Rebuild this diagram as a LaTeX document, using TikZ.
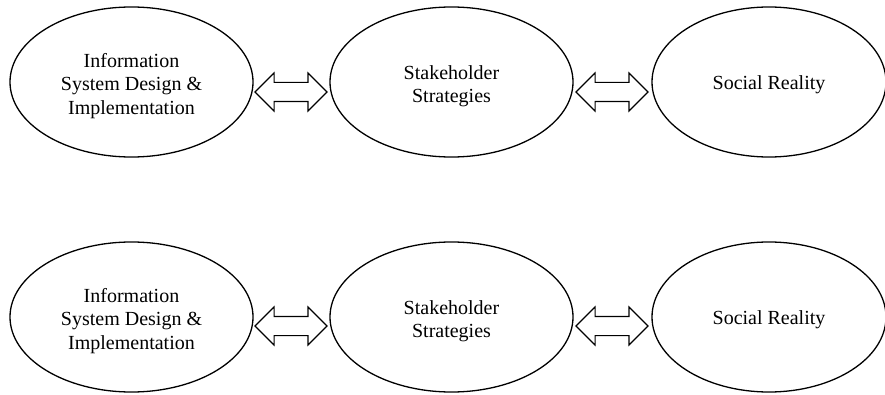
\documentclass[tikz,border=0pt]{standalone}
\usepackage{fontspec}
\setmainfont{Liberation Serif}
\usetikzlibrary{shapes.geometric}
\usetikzlibrary{shapes.arrows}

\tikzset{
  oval/.style={draw, ellipse, line width=1.3pt, inner sep=0pt, minimum height=150},
  words/.style={align=center, inner sep=0pt, font=\fontsize{20}{23.5}\selectfont},
  link/.style={draw, double arrow, line width=1.1pt, inner xsep=0pt, inner ysep=9pt,
    minimum height=72, double arrow head extend=9.5}
}

\begin{document}
\begin{tikzpicture}[x=1pt,y=1pt]
\useasboundingbox (0,0) rectangle (885,394);
%top row
\node[oval, minimum width=243] (isd) at (131.5,312) {};
\node[oval, minimum width=243] (sh) at (451.5,312) {};
\node[oval, minimum width=234] (sr) at (769,312) {};
\node[words] (isdtext) at ([yshift=-4]isd.center) {Information\\System Design \&\\Implementation};
\node[words] (shtext) at ([yshift=-4]sh.center) {Stakeholder\\Strategies};
\node[words] (srtext) at ([yshift=-3]sr.center) {Social Reality};
\node[link] (isdsh) at (291,302) {};
\node[link] (shsr) at (612,302) {};
%bottom row
\node[oval, minimum width=243] (isdB) at (131.5,77) {};
\node[oval, minimum width=243] (shB) at (451.5,77) {};
\node[oval, minimum width=234] (srB) at (769,77) {};
\node[words] (isdtextB) at ([yshift=-4]isdB.center) {Information\\System Design \&\\Implementation};
\node[words] (shtextB) at ([yshift=-4]shB.center) {Stakeholder\\Strategies};
\node[words] (srtextB) at ([yshift=-3]srB.center) {Social Reality};
\node[link] (isdshB) at (291,68) {};
\node[link] (shsrB) at (612,68) {};
\end{tikzpicture}
\end{document}
